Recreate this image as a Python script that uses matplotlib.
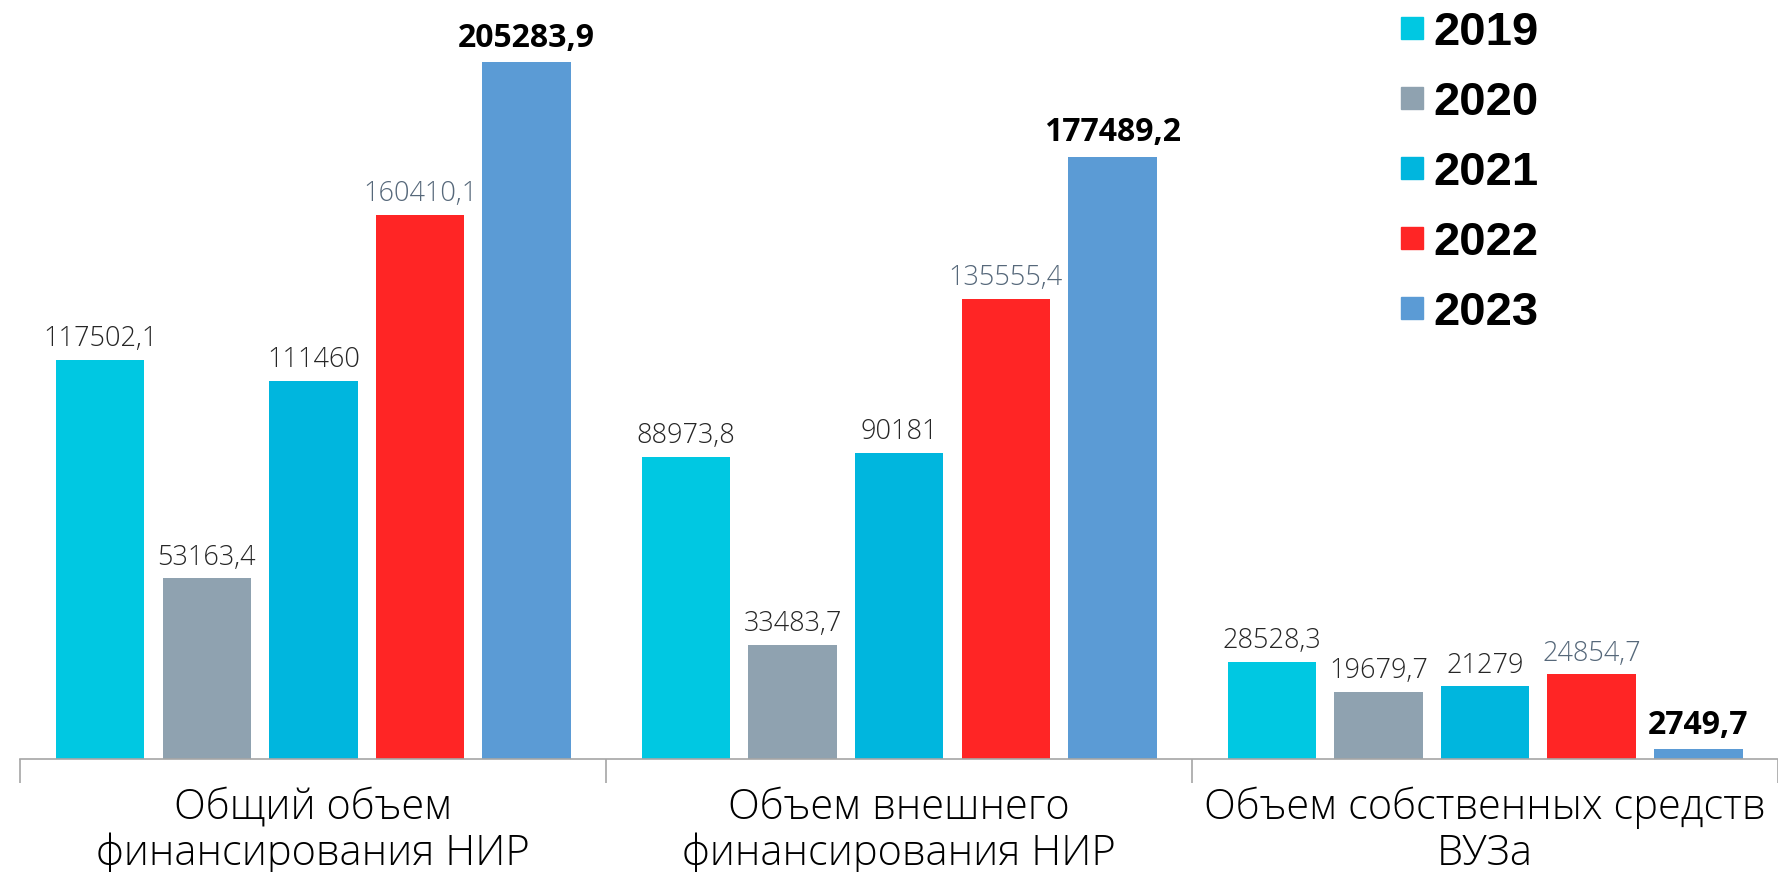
import numpy as np
import matplotlib.pyplot as plt
from matplotlib.lines import Line2D

categories = ['Общий объем\nфинансирования НИР',
              'Объем внешнего\nфинансирования НИР',
              'Объем собственных средств\nВУЗа']
years = ['2019', '2020', '2021', '2022', '2023']
v2019 = [117502.1, 88973.8, 28528.3]
v2020 = [53163.4, 33483.7, 19679.7]
v2021 = [111460, 90181, 21279]
v2022 = [160410.1, 135555.4, 24854.7]
v2023 = [205283.9, 177489.2, 2749.7]
labels2019 = ['117502,1', '88973,8', '28528,3']
labels2020 = ['53163,4', '33483,7', '19679,7']
labels2021 = ['111460', '90181', '21279']
labels2022 = ['160410,1', '135555,4', '24854,7']
labels2023 = ['205283,9', '177489,2', '2749,7']

series = [v2019, v2020, v2021, v2022, v2023]
series_labels = [labels2019, labels2020, labels2021, labels2022, labels2023]
colors = ['#00C8E2', '#8FA2B0', '#00B6DE', '#FF2525', '#5B9BD5']
label_colors = ['#262626', '#262626', '#262626', '#56687A', '#000000']

fig = plt.figure(figsize=(17.78, 8.72), dpi=100)
ax = fig.add_axes([0.0115, 0.13, 0.9885, 0.87])

x = np.arange(len(categories))
width = 0.151
step = 0.182

# Bars with value labels
for i, (vals, labs) in enumerate(zip(series, series_labels)):
    pos = x + (i - 2) * step
    ax.bar(pos, vals, width, color=colors[i], zorder=2)
    for px, v, lab in zip(pos, vals, labs):
        if i == 4:
            ax.text(px, v + 2200, lab, ha='center', va='bottom', fontsize=23,
                    fontweight='bold', family=['Open Sans', 'DejaVu Sans'],
                    color=label_colors[i])
        else:
            ax.text(px, v + 2000, lab, ha='center', va='bottom', fontsize=19.5,
                    fontweight='light', family=['Open Sans', 'DejaVu Sans'],
                    color=label_colors[i])

ax.set_xlim(-0.5, 2.5)
ax.set_ylim(0, 223700)

for s in ['top', 'left', 'right']:
    ax.spines[s].set_visible(False)
ax.spines['bottom'].set_color('#A6A6A6')
ax.spines['bottom'].set_linewidth(1.2)
ax.set_yticks([])

ax.set_xticks([-0.5, 0.5, 1.5, 2.5])
ax.set_xticklabels([])
ax.tick_params(axis='x', which='major', length=17, color='#A6A6A6', width=1.2)
ax.set_xticks(x, minor=True)
ax.set_xticklabels(categories, minor=True, fontsize=30, fontweight='light',
                   family=['Open Sans', 'DejaVu Sans'], linespacing=1.1)
ax.tick_params(axis='x', which='minor', length=0, pad=20)

handles = [Line2D([], [], marker='s', linestyle='none', markersize=16,
                  color=c) for c in colors]
leg = ax.legend(handles, years, loc='upper left', bbox_to_anchor=(0.761, 1.042),
                frameon=False, labelspacing=0.55, handlelength=0.5,
                handletextpad=0.2,
                prop={'family': 'Liberation Sans', 'weight': 'bold', 'size': 34})

fig.savefig('out.png', dpi=100)
